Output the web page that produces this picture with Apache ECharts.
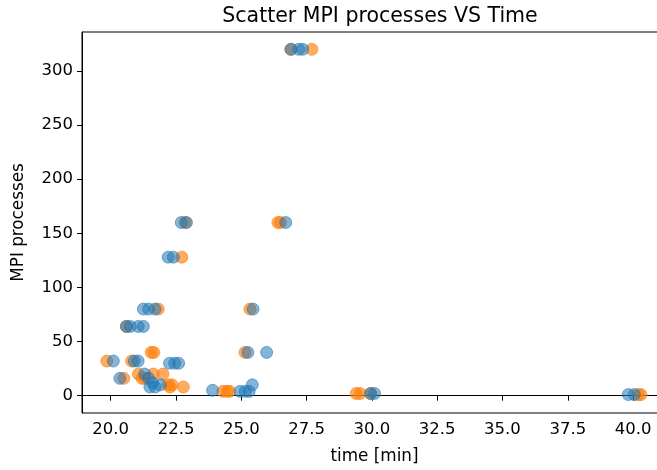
<!DOCTYPE html>
<html>
<head>
<meta charset="utf-8">
<script src="https://cdn.jsdelivr.net/npm/echarts@6/dist/echarts.min.js"></script>
<style>
  html, body { margin: 0; padding: 0; background: #fff; }
  #chart { width: 657px; height: 470px; }
</style>
</head>
<body>
<div id="chart"></div>
<script>
// tick labels
var xTicks = [20, 22.5, 25, 27.5, 30, 32.5, 35, 37.5, 40]
var yTicks = [0, 50, 100, 150, 200, 250, 300]

// [time, processes]
var blueRuns = [
  [26.9, 320], [27.2, 320], [27.35, 320],
  [22.7, 160], [22.9, 160], [26.7, 160],
  [22.2, 128], [22.4, 128],
  [21.25, 80], [21.45, 80], [21.7, 80], [25.45, 80],
  [20.6, 64], [20.75, 64], [21.05, 64], [21.25, 64],
  [25.25, 40], [25.97, 40],
  [20.1, 32], [20.9, 32], [21.05, 32],
  [22.25, 30], [22.45, 30], [22.6, 30],
  [20.35, 16], [21.45, 16], [21.3, 20],
  [21.5, 8], [21.7, 8], [21.9, 10], [21.6, 12],
  [23.9, 5], [24.95, 4], [25.15, 4], [25.3, 4], [25.42, 10],
  [39.82, 1], [40.05, 1],
  [29.95, 2], [30.1, 2]
]
var orangeRuns = [
  [26.9, 320], [27.7, 320],
  [22.85, 160], [26.4, 160], [26.5, 160],
  [22.72, 128],
  [21.82, 80], [25.33, 80],
  [20.6, 64],
  [21.55, 40], [21.65, 40], [25.14, 40],
  [19.85, 32], [20.8, 32],
  [20.5, 16], [21.06, 20], [21.3, 16], [21.63, 20], [22.0, 20],
  [22.2, 10], [22.35, 10], [21.2, 16],
  [22.27, 8], [22.78, 8],
  [24.3, 4], [24.45, 4], [24.55, 4],
  [29.4, 2], [29.55, 2], [29.95, 2],
  [40.2, 1], [40.3, 1]
]

var chart = echarts.init(document.getElementById('chart'))
var font = 'DejaVu Sans'
chart.setOption({
  animation: false,
  title: {
    text: 'Scatter MPI processes VS Time',
    left: 375,
    textAlign: 'center',
    top: 1,
    textStyle: { fontFamily: font, fontSize: 20.5, fontWeight: 'normal', color: '#000' }
  },
  grid: {
    left: 82,
    right: -10,
    top: 32,
    bottom: 57,
    outerBoundsMode: 'none',
    show: true,
    borderColor: '#000',
    borderWidth: 1
  },
  xAxis: {
    type: 'value',
    min: 18.9,
    max: 41.3,
    name: 'time [min]',
    nameLocation: 'middle',
    nameGap: 35,
    nameTextStyle: { fontFamily: font, fontSize: 16.8, color: '#000' },
    axisLine: { lineStyle: { color: '#000', width: 1 } },
    axisTick: { show: true, length: 5, customValues: xTicks, lineStyle: { color: '#000' } },
    axisLabel: {
      customValues: xTicks,
      margin: 8,
      fontFamily: font,
      fontSize: 16.5,
      color: '#000',
      formatter: function (v) { return v.toFixed(1) }
    },
    splitLine: { show: false }
  },
  yAxis: {
    type: 'value',
    min: -16,
    max: 336,
    name: 'MPI processes',
    nameLocation: 'middle',
    nameGap: 55,
    nameTextStyle: { fontFamily: font, fontSize: 16.8, color: '#000' },
    axisLine: { show: true, lineStyle: { color: '#000', width: 1 } },
    axisTick: { show: true, length: 5, customValues: yTicks, lineStyle: { color: '#000' } },
    axisLabel: {
      customValues: yTicks,
      margin: 9,
      fontFamily: font,
      fontSize: 16.5,
      color: '#000'
    },
    splitLine: { show: false }
  },
  series: [
    {
      type: 'scatter',
      data: orangeRuns,
      symbolSize: 12,
      itemStyle: { color: '#ff7f0e', opacity: 0.65, borderColor: '#ff7f0e', borderWidth: 1 }
    },
    {
      type: 'scatter',
      data: blueRuns,
      symbolSize: 12,
      itemStyle: { color: '#1f77b4', opacity: 0.55, borderColor: '#1f77b4', borderWidth: 1 }
    }
  ]
})
</script>
</body>
</html>
